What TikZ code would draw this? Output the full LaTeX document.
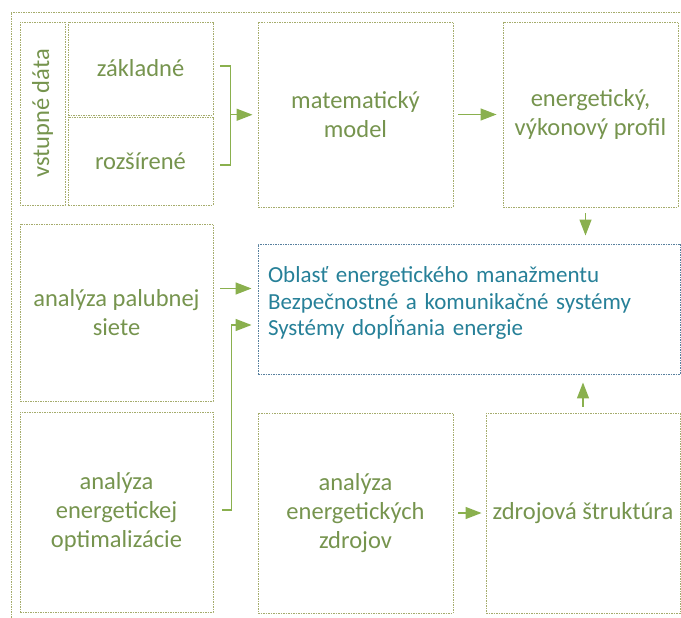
\documentclass[tikz,border=0pt]{standalone}
\usepackage{fontspec}
\setmainfont{Carlito}
\usepackage{tikz}
\usetikzlibrary{arrows.meta, calc}
\usepackage{xcolor}
\definecolor{boxgreen}{RGB}{165,172,108}
\definecolor{textgreen}{RGB}{118,148,78}
\definecolor{arrowgreen}{RGB}{138,176,78}
\definecolor{areablue}{RGB}{88,128,158}
\definecolor{textblue}{RGB}{38,128,152}

\begin{document}
\begin{tikzpicture}[x=1pt, y=-1pt,
    blok/.style={draw=boxgreen, line width=0.9pt, dash pattern=on 1.5pt off 1pt,
        text=textgreen, align=center, inner sep=0pt,
        font=\fontsize{24.5}{29}\selectfont},
    sipka/.style={arrowgreen, line width=1.3pt, -{Triangle[length=16pt, width=12pt]}},
    spoj/.style={arrowgreen, line width=1.3pt}]
    \clip (0,0) rectangle (681,618);
    % vonkajsi ramec
    \draw[boxgreen, line width=0.9pt, dash pattern=on 1.5pt off 1pt] (11,640) |- (700,12);

    \node[blok, rotate=90, minimum width=183pt, minimum height=45pt] (vstup) at (42.5,113.5) {vstupné dáta};
    \node[blok, minimum width=145pt, minimum height=93pt] (zakl) at (140.5,68.5) {základné};
    \node[blok, minimum width=145pt, minimum height=88pt] (rozs) at (140.5,161) {rozšírené};
    \node[blok, minimum width=195pt, minimum height=185pt] (mat) at (355.5,114.5) {matematický\\model};
    \node[blok, minimum width=175pt, minimum height=185pt] (profil) at (590.5,114.5) {energetický,\\výkonový profil};

    \node[blok, minimum width=193pt, minimum height=177pt] (palub) at (116.5,312.5) {analýza palubnej\\siete};
    \node[blok, draw=areablue, text=textblue, align=left, text width=402pt, inner xsep=10pt,
        font=\fontsize{23}{26.5}\selectfont,
        minimum height=130pt] (oblast) at (469,309)
        {Oblasť energetického manažmentu\\Bezpečnostné a komunikačné systémy\\Systémy dopĺňania energie\par\vspace*{12pt}};

    \node[blok, minimum width=193pt, minimum height=200pt] (opt) at (116.5,512) {analýza\\energetickej\\optimalizácie};
    \node[blok, minimum width=195pt, minimum height=200pt] (zdroj) at (355.5,513) {analýza\\energetických\\zdrojov};
    \node[blok, minimum width=194pt, minimum height=200pt] (strukt) at (583,513) {zdrojová štruktúra};

    % vstupne data -> model
    \draw[spoj] ($(zakl.east)+(7,-2.5)$) -- ++(10,0) |- ($(rozs.east)+(7,4)$);
    \coordinate (br) at ($(zakl.east)!0.5!(rozs.east)+(17,0)$);
    \draw[sipka, shorten >=5pt] (br) -- (br -| mat.west);
    \draw[sipka, shorten <=5pt, shorten >=6pt] (mat.east) -- (mat.east -| profil.west);
    \draw[sipka, shorten <=6pt, shorten >=8pt] ([xshift=-5pt]profil.south) -- ([xshift=-5pt]profil.south |- oblast.north);

    \draw[sipka, shorten <=7pt, shorten >=6pt] ($(palub.east)+(0,-24)$) -- ($(palub.east -| oblast.west)+(0,-24)$);
    \draw[sipka, shorten >=6pt] ($(opt.east)+(9,-2)$) -- ++(9,0) |- ($(oblast.west)+(0,16)$);

    \draw[sipka, shorten <=5pt, shorten >=4pt] (zdroj.east) -- (strukt.west);
    \draw[sipka, shorten <=6pt, shorten >=8pt] (strukt.north) -- (strukt.north |- oblast.south);
\end{tikzpicture}
\end{document}
